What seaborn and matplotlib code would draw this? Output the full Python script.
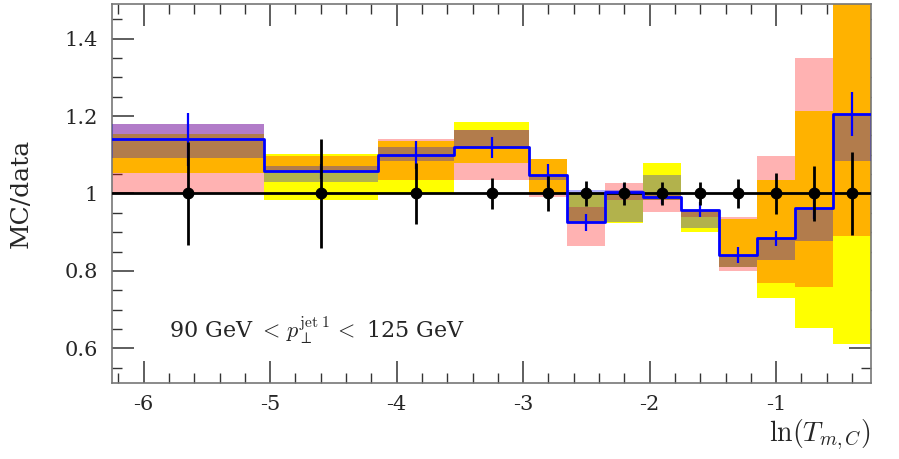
import numpy as np
import seaborn as sns
import matplotlib.pyplot as plt
from matplotlib.ticker import MultipleLocator, FuncFormatter

# bin edges in ln(T_m,C)
edges = [-6.25, -5.05, -4.15, -3.55, -2.95, -2.65, -2.35, -2.05, -1.75, -1.45, -1.15, -0.85, -0.55, -0.25]

# data / data (always 1) with relative errors
data_val = [1.0] * 13
data_err = [0.134, 0.141, 0.080, 0.040, 0.044, 0.033, 0.030, 0.031, 0.030, 0.038, 0.053, 0.070, 0.108]

# MC / data
mc_val = [1.140, 1.057, 1.099, 1.119, 1.047, 0.925, 1.004, 0.992, 0.958, 0.840, 0.884, 0.963, 1.206]
mc_err = [0.069, 0.020, 0.036, 0.026, 0.030, 0.023, 0.020, 0.020, 0.020, 0.021, 0.020, 0.030, 0.057]

# uncertainty bands
yellow_lo = [1.052, 0.984, 1.000, 1.078, 1.000, 0.925, 0.923, 0.982, 0.900, 0.810, 0.729, 0.651, 0.612]
yellow_hi = [1.153, 1.103, 1.137, 1.186, 1.090, 1.000, 1.005, 1.080, 0.958, 0.933, 1.034, 1.214, 1.550]
red_lo = [1.000, 1.055, 1.036, 1.034, 0.990, 0.863, 0.982, 0.951, 0.938, 0.800, 0.768, 0.757, 0.891]
red_hi = [1.180, 1.096, 1.142, 1.163, 1.090, 0.966, 1.026, 0.997, 0.958, 0.940, 1.098, 1.350, 1.600]
blue_lo = [1.093, 1.031, 1.085, 1.119, 1.034, 0.925, 0.925, 0.982, 0.910, 0.810, 0.827, 0.878, 1.083]
blue_hi = [1.180, 1.070, 1.119, 1.163, 1.047, 1.008, 1.010, 1.047, 0.958, 0.840, 0.884, 0.963, 1.206]

sns.set_style('ticks')
plt.rcParams['font.family'] = ['DejaVu Serif']
plt.rcParams['mathtext.fontset'] = 'cm'
plt.rcParams['axes.unicode_minus'] = False

e = np.array(edges)
centers = 0.5 * (e[:-1] + e[1:])
widths = np.diff(e)

fig = plt.figure(figsize=(8.99, 4.59), dpi=100)
ax = fig.add_axes([0.1246, 0.1656, 0.8443, 0.8257])

def band(lo, hi, color, alpha, z):
    lo = np.array(lo)
    hi = np.array(hi)
    ax.bar(e[:-1], hi - lo, width=widths, bottom=lo, align='edge',
           color=color, alpha=alpha, linewidth=0, zorder=z)

band(yellow_lo, yellow_hi, '#ffff00', 1.0, 1)
band(red_lo, red_hi, '#ff0000', 0.3, 2)
band(blue_lo, blue_hi, '#0000ff', 0.3, 3)

ax.axhline(1.0, color='black', lw=2, zorder=4)

# MC step line
sns.lineplot(x=edges, y=mc_val + [mc_val[-1]], drawstyle='steps-post',
             color='blue', lw=2, estimator=None, ax=ax, zorder=5)
ax.errorbar(centers, mc_val, yerr=mc_err, fmt='none', ecolor='blue', elinewidth=1.6, zorder=5)

# data points
ax.errorbar(centers, data_val, yerr=data_err, fmt='o', color='black', ms=7.5,
            elinewidth=2, capsize=0, zorder=6)

ax.set_xlim(-6.25, -0.25)
ax.set_ylim(0.51, 1.49)

ax.xaxis.set_major_locator(MultipleLocator(1))
ax.xaxis.set_minor_locator(MultipleLocator(0.2))
ax.yaxis.set_major_locator(MultipleLocator(0.2))
ax.yaxis.set_minor_locator(MultipleLocator(0.05))
ax.yaxis.set_major_formatter(FuncFormatter(lambda v, p: '%g' % round(v, 2)))
ax.xaxis.set_major_formatter(FuncFormatter(lambda v, p: '%d' % round(v)))

ax.tick_params(which='both', direction='in', top=True, right=True, color='#333333')
ax.tick_params(which='major', length=16, width=1.1, labelsize=15)
ax.tick_params(which='minor', length=7, width=1.0)
ax.tick_params(axis='x', which='major', pad=9)
ax.tick_params(axis='y', which='major', pad=10)
for s in ax.spines.values():
    s.set_color('#777777')
    s.set_linewidth(1.2)

ax.set_ylabel('MC/data', fontsize=18)
ax.yaxis.set_label_coords(-0.104, 0.5)
ax.set_xlabel(r'$\ln(T_{m,C})$', fontsize=20, loc='right')
ax.xaxis.set_label_coords(1.0, -0.09)

ax.text(0.075, 0.14, r'90 GeV $<\, p_{\perp}^{\mathrm{jet\ 1}}\, <$ 125 GeV',
        transform=ax.transAxes, fontsize=16, va='center', ha='left')

fig.savefig('out.png', dpi=100)
